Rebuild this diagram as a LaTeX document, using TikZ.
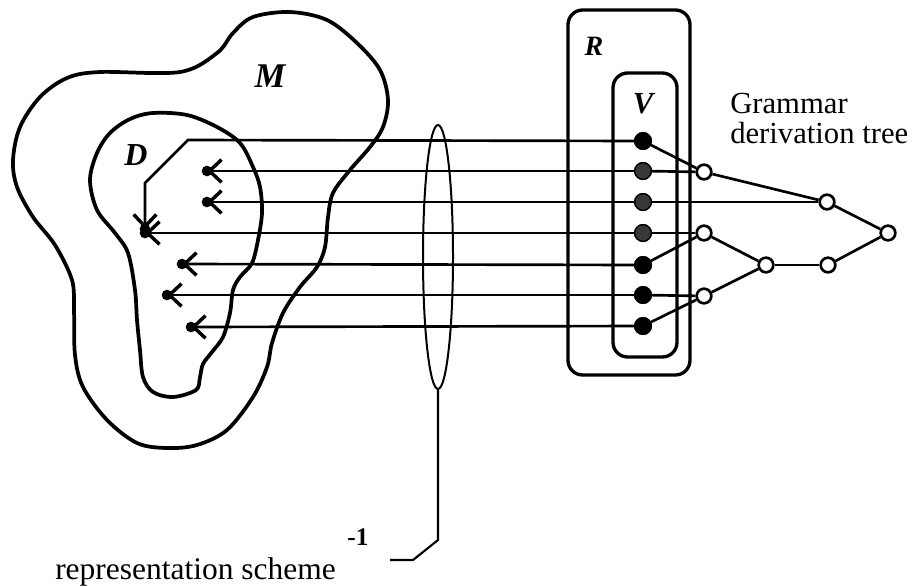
\documentclass[tikz,border=0pt]{standalone}
\usepackage{fontspec}
\setmainfont{Liberation Serif}
\usetikzlibrary{shapes.geometric,arrows.meta}
\begin{document}
\begin{tikzpicture}[x=0.75pt,y=-0.75pt,
  outline/.style={line width=2.8pt, line join=round},
  boxline/.style={draw, line width=2.5pt, rounded corners=11pt, inner sep=0pt},
  ray/.style={line width=2pt},
  tip/.style={-{Straight Barb[length=9pt,width=17pt,line width=2.6pt]}},
  knob/.style={circle, fill=black, inner sep=0pt, minimum size=8pt},
  vdot/.style={circle, draw=black, line width=1pt, inner sep=0pt, minimum size=12.5pt},
  full/.style={vdot, fill=black},
  grey/.style={vdot, fill=black!78},
  tnode/.style={circle, draw=black, fill=white, line width=2pt, inner sep=0pt, minimum size=11pt},
  tedge/.style={line width=2pt},
  lbl/.style={font=\bfseries\itshape\fontsize{21}{23}\selectfont, inner sep=0pt},
  txt/.style={font=\fontsize{23}{22.5}\selectfont, inner sep=0pt}
]
\useasboundingbox (0,0) rectangle (913,586);

% outer region M
\draw[outline] plot[smooth cycle, tension=0.55] coordinates {
 (100,72) (180,72) (217,53) (233,33) (253,17) (290,12) (327,20) (357,43)
 (380,70) (388,100) (383,127) (370,147) (350,170) (333,193) (328,217)
 (325,247) (317,267) (300,287) (283,313) (272,343) (267,367) (253,397)
 (227,430) (197,445) (167,448) (137,443) (107,420) (83,387) (75,355)
 (74,310) (72,280) (55,245) (33,217) (17,187) (13,160) (20,127) (40,97) (67,78)};

% inner region D
\draw[outline] plot[smooth cycle, tension=0.55] coordinates {
 (153,113) (187,115) (217,127) (240,143) (253,167) (260,187) (262,213)
 (258,240) (252,263) (240,277) (233,290) (230,313) (223,337) (212,352)
 (203,364) (200,377) (196,390) (173,397) (153,392) (143,377) (140,350)
 (137,320) (135,290) (128,253) (115,233) (97,210) (90,180) (97,153) (110,133) (130,119)};

\node[lbl, font=\bfseries\itshape\fontsize{26}{28}\selectfont] (Mlab) at (270,76) {M};
\node[lbl, font=\bfseries\itshape\fontsize{24}{26}\selectfont] (Dlab) at (136,155) {D};

% lens
\node[draw, ellipse, line width=1.5pt, inner sep=0pt, minimum width=22.5pt, minimum height=198pt] (lens) at (438,257) {};

% boxes R and V
\node[boxline, minimum width=91.5pt, minimum height=273.75pt] (R) at (629,192.5) {};
\node[boxline, minimum width=48pt, minimum height=213pt] (V) at (645,215) {};
\node[lbl] (Rlab) at (594,46) {R};
\node[lbl, font=\bfseries\itshape\fontsize{23}{25}\selectfont] (Vlab) at (643,104) {V};

% V elements
\node[full] (v1) at (643,141) {};
\node[grey] (v2) at (643,171) {};
\node[grey] (v3) at (643,202) {};
\node[grey] (v4) at (643,233) {};
\node[full] (v5) at (643,265) {};
\node[full] (v6) at (643,295) {};
\node[full] (v7) at (643,326) {};

% arrow ends
\coordinate (k1) at (188,140);
\coordinate (k2) at (145,183);
\coordinate (e1) at (145,229);
\coordinate (e2) at (207,171);
\coordinate (e3) at (207,202);
\coordinate (e4) at (145,233);
\coordinate (e5) at (182,264);
\coordinate (e6) at (167,295);
\coordinate (e7) at (191,327);

\draw[ray, tip] (v1.center) -- (k1) -- (k2) -- (e1);
\draw[ray, tip] (v2.center) -- (e2);
\draw[ray, tip] (v3.center) -- (e3);
\draw[ray, tip] (v4.center) -- (e4);
\draw[ray, tip] (v5.center) -- (e5);
\draw[ray, tip] (v6.center) -- (e6);
\draw[ray, tip] (v7.center) -- (e7);
\foreach \e in {e1,e2,e3,e4,e5,e6,e7} \node[knob] at (\e) {};

% redraw dots on top of lines
\node[full] at (v1) {};
\node[grey] at (v2) {};
\node[grey] at (v3) {};
\node[grey] at (v4) {};
\node[full] at (v5) {};
\node[full] at (v6) {};
\node[full] at (v7) {};

% derivation tree
\node[tnode] (ta) at (704,172) {};
\node[tnode] (tb) at (827,202) {};
\node[tnode] (tc) at (888,233) {};
\node[tnode] (td) at (704,233) {};
\node[tnode] (te) at (766,265) {};
\node[tnode] (tf) at (828,265) {};
\node[tnode] (tg) at (704,296) {};

\draw[tedge] (v1) -- (ta);
\draw[tedge] (v2) -- (ta);
\draw[tedge] (v3) -- (tb);
\draw[tedge] (v4) -- (td);
\draw[tedge] (v5) -- (td);
\draw[tedge] (v6) -- (tg);
\draw[tedge] (v7) -- (tg);
\draw[tedge] (ta) -- (tb);
\draw[tedge] (tb) -- (tc);
\draw[tedge] (td) -- (te);
\draw[tedge] (tg) -- (te);
\draw[tedge] (te) -- (tf);
\draw[tedge] (tf) -- (tc);

\node[txt, align=left, anchor=north west] (gram) at (730,93) {Grammar\\derivation tree};

% representation scheme bracket
\coordinate (b1) at (438,540);
\coordinate (b2) at (413,560);
\coordinate (b3) at (390,560);
\draw[line width=1.6pt] (lens.south) -- (b1) -- (b2) -- (b3);
\node[txt, font=\fontsize{23.6}{25}\selectfont, anchor=base west] (rs) at (55,579) {representation scheme};
\node[inner sep=0pt, font=\bfseries\fontsize{19}{20}\selectfont] (m1) at (358,537) {-1};
\end{tikzpicture}
\end{document}
